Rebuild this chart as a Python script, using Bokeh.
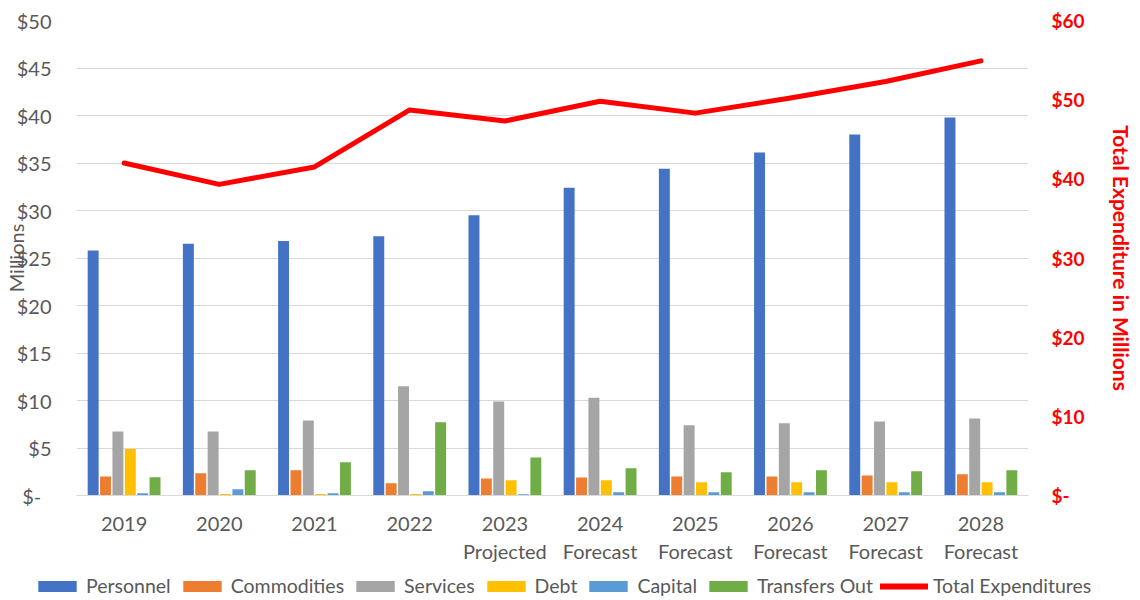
import numpy as np
from bokeh.plotting import figure
from bokeh.layouts import column
from bokeh.models import (Range1d, LinearAxis, FixedTicker, Legend, LegendItem,
                          ColumnDataSource)
from bokeh.embed import file_html
from bokeh.resources import INLINE

categories = ["2019", "2020", "2021", "2022", "2023\nProjected", "2024\nForecast",
              "2025\nForecast", "2026\nForecast", "2027\nForecast", "2028\nForecast"]
personnel = [25.8, 26.5, 26.8, 27.3, 29.5, 32.4, 34.4, 36.1, 38.0, 39.8]
commodities = [2.0, 2.35, 2.65, 1.3, 1.8, 1.9, 2.0, 2.0, 2.1, 2.25]
services = [6.75, 6.75, 7.9, 11.5, 9.9, 10.3, 7.4, 7.6, 7.8, 8.1]
debt = [4.9, 0.15, 0.15, 0.15, 1.6, 1.6, 1.4, 1.4, 1.4, 1.4]
capital = [0.25, 0.67, 0.25, 0.46, 0.14, 0.35, 0.35, 0.35, 0.35, 0.35]
transfers = [1.93, 2.66, 3.5, 7.7, 4.0, 2.87, 2.45, 2.66, 2.55, 2.66]
total = [42.0, 39.3, 41.5, 48.7, 47.3, 49.8, 48.3, 50.2, 52.3, 54.9]

left_ticks = [0, 5, 10, 15, 20, 25, 30, 35, 40, 45, 50]
right_ticks = [0, 10, 20, 30, 40, 50, 60]

series = [("Personnel", personnel, "#4472C4"),
          ("Commodities", commodities, "#ED7D31"),
          ("Services", services, "#A5A5A5"),
          ("Debt", debt, "#FFC000"),
          ("Capital", capital, "#5B9BD5"),
          ("Transfers Out", transfers, "#70AD47")]

FONT = "Lato"
GRAY = "#595959"
RED = "#FF0000"

p = figure(width=1136, height=566, output_backend="svg", toolbar_location=None,
           x_range=Range1d(-0.5, 9.5), y_range=Range1d(0, 50),
           min_border_left=75, min_border_right=104, min_border_top=20,
           min_border_bottom=70)
p.frame_align = False
p.outline_line_color = None
p.xgrid.visible = False
p.ygrid.grid_line_color = "#D9D9D9"
p.ygrid.grid_line_width = 1
p.ygrid.ticker = FixedTicker(ticks=left_ticks)

p.extra_y_ranges = {"right": Range1d(0, 60)}

xs = np.arange(len(categories))
pitch = 0.13
bw = 0.115
for i, (name, vals, col) in enumerate(series):
    off = (i - 2.5) * pitch
    src = ColumnDataSource(dict(x=xs + off, top=vals))
    p.vbar(x="x", top="top", width=bw, source=src, fill_color=col, line_color=None)

lsrc = ColumnDataSource(dict(x=xs, y=total))
p.line("x", "y", source=lsrc, y_range_name="right", line_color=RED,
       line_width=5, line_join="round", line_cap="round")

# x axis
xa = p.xaxis[0]
xa.ticker = FixedTicker(ticks=list(xs))
xa.major_label_overrides = {int(i): c for i, c in enumerate(categories)}
xa.axis_line_color = "#D9D9D9"
xa.major_tick_line_color = None
xa.minor_tick_line_color = None
xa.major_tick_out = 0
xa.major_tick_in = 0
xa.major_label_text_font = FONT
xa.major_label_text_font_size = "20px"
xa.major_label_text_color = GRAY
xa.major_label_standoff = 15

# left axis
ya = p.yaxis[0]
ya.ticker = FixedTicker(ticks=left_ticks)
ya.major_label_overrides = {t: ("$-\u00a0\u00a0" if t == 0 else f"${t}") for t in left_ticks}
ya.axis_line_color = None
ya.major_tick_line_color = None
ya.minor_tick_line_color = None
ya.major_tick_out = 0
ya.major_tick_in = 0
ya.major_label_text_font = FONT
ya.major_label_text_font_size = "20px"
ya.major_label_text_color = GRAY
ya.major_label_standoff = 25
ya.axis_label = "Millions"
ya.axis_label_text_font = FONT
ya.axis_label_text_font_size = "20px"
ya.axis_label_text_font_style = "normal"
ya.axis_label_text_color = GRAY
ya.axis_label_standoff = -14

# right axis
ra = LinearAxis(y_range_name="right", ticker=FixedTicker(ticks=right_ticks))
ra.major_label_overrides = {t: ("$-" if t == 0 else f"${t}") for t in right_ticks}
ra.axis_line_color = None
ra.major_tick_line_color = None
ra.minor_tick_line_color = None
ra.major_tick_out = 0
ra.major_tick_in = 0
ra.major_label_text_font = FONT
ra.major_label_text_font_size = "19px"
ra.major_label_text_font_style = "bold"
ra.major_label_text_color = RED
ra.major_label_standoff = 23
ra.axis_label = "Total Expenditure in Millions"
ra.axis_label_text_font = FONT
ra.axis_label_text_font_size = "21px"
ra.axis_label_text_font_style = "bold"
ra.axis_label_text_color = RED
ra.axis_label_standoff = 21
p.add_layout(ra, "right")

# legend strip (separate small figure below the chart; zero-size proxy glyphs)
lg = figure(width=1136, height=32, output_backend="svg", toolbar_location=None,
            x_range=Range1d(0, 1), y_range=Range1d(0, 1),
            x_axis_type=None, y_axis_type=None,
            min_border_left=0, min_border_right=0, min_border_top=0,
            min_border_bottom=0)
lg.frame_align = False
lg.outline_line_color = None
lg.grid.visible = False
items = []
for name, vals, col in series:
    r = lg.vbar(x=[0.5], top=[0], bottom=[0], width=0.0, fill_color=col,
                line_color=None)
    items.append(LegendItem(label=name, renderers=[r]))
r = lg.line(x=[0.5], y=[-1], line_color=RED, line_width=6, line_cap="round")
items.append(LegendItem(label="Total Expenditures", renderers=[r]))

legend = Legend(items=items, orientation="horizontal", location=(33, 1),
                glyph_width=48, glyph_height=14, label_standoff=5, spacing=7,
                label_text_font=FONT, label_text_font_size="19.5px",
                label_text_color=GRAY, border_line_color=None,
                background_fill_alpha=0, padding=0, margin=0)
lg.add_layout(legend, "center")

layout = column(p, lg, spacing=0)
open("out.html", "w").write(file_html(layout, INLINE))
